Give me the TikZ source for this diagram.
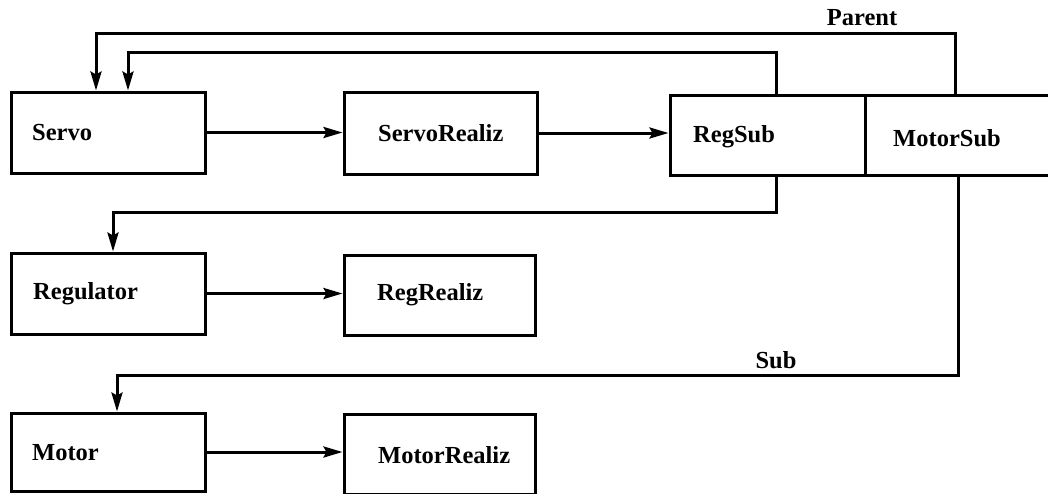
\documentclass[tikz,border=0pt]{standalone}
\usepackage{fontspec}
\setmainfont{Liberation Serif}
\usetikzlibrary{arrows.meta}
\begin{document}
\begin{tikzpicture}[x=1pt,y=-1pt,
  box/.style={draw, line width=3pt, rectangle, inner sep=0pt},
  lbl/.style={font=\fontsize{24.5}{28}\selectfont\bfseries, inner sep=0pt, anchor=west},
  arr/.style={line width=3pt, -{Stealth[length=19pt,width=11pt,inset=3pt]}},
  ln/.style={line width=3pt}]
\useasboundingbox (0,0) rectangle (1048,493);
\clip (0,0) rectangle (1048,493);
% boxes
\node[box, minimum width=194pt, minimum height=81pt] (servo) at (108,132.5) {};
\node[box, minimum width=193pt, minimum height=82pt] (servoR) at (440.5,133) {};
\node[box, minimum width=195pt, minimum height=80pt] (regsub) at (767.5,135) {};
\node[box, minimum width=200pt, minimum height=80pt] (motorsub) at (965,135) {};
\node[box, minimum width=194pt, minimum height=81pt] (regulator) at (108,293.5) {};
\node[box, minimum width=191pt, minimum height=80pt] (regR) at (439.5,295) {};
\node[box, minimum width=194pt, minimum height=78pt] (motor) at (108,452) {};
\node[box, minimum width=191pt, minimum height=80pt] (motorR) at (439.5,454) {};
% texts
\node[lbl] (tservo) at (32,133) {Servo};
\node[lbl] (tservoR) at (378,133) {ServoRealiz};
\node[lbl] (tregsub) at (693,137) {RegSub};
\node[lbl] (tmotorsub) at (893,138) {MotorSub};
\node[lbl] (tregulator) at (33,294) {Regulator};
\node[lbl] (tregR) at (377,295) {RegRealiz};
\node[lbl] (tmotor) at (32,453) {Motor};
\node[lbl] (tmotorR) at (378,455) {MotorRealiz};
\node[lbl, anchor=center] (tparent) at (862,18) {Parent};
\node[lbl, anchor=center] (tsub) at (776,360) {Sub};
% horizontal arrows
\draw[arr] (servo.east) -- (servo.east -| servoR.west);
\draw[arr] (servoR.east) -- (servoR.east -| regsub.west);
\draw[arr] (regulator.east) -- (regulator.east -| regR.west);
\draw[arr] (motor.east) -- (motor.east -| motorR.west);
% parent links
\draw[arr] ([xshift=92pt]motorsub.north west) |- (96,33) -- ([xshift=-12pt]servo.north);
\draw[arr] ([xshift=108pt]regsub.north west) |- (128,52) -- ([xshift=20pt]servo.north);
% sub links
\draw[arr] ([xshift=108pt]regsub.south west) |- (113,212) -- ([xshift=5pt]regulator.north);
\draw[arr] ([xshift=95pt]motorsub.south west) |- (117,375) -- ([xshift=9pt]motor.north);
\end{tikzpicture}
\end{document}
